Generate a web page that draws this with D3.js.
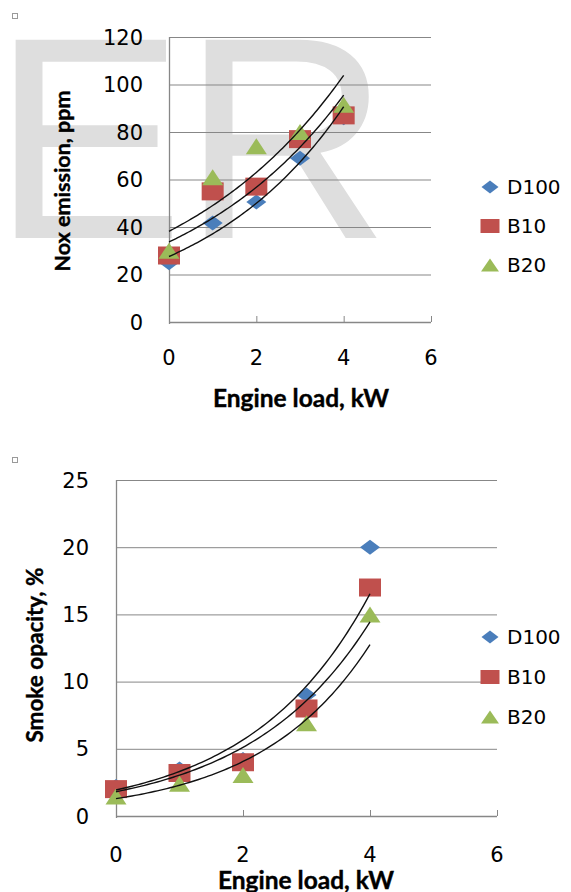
<!DOCTYPE html>
<html>
<head>
<meta charset="utf-8">
<script src="https://cdn.jsdelivr.net/npm/d3@7"></script>
<style>
  body { margin: 0; background: #fff; }
  svg { display: block; }
</style>
</head>
<body>
<svg id="graph-svg" width="571" height="892"></svg>
<script>
// values
const loads = [0, 1, 2, 3, 4]
const seriesNames = ['D100', 'B10', 'B20']
const seriesColours = ['#4a7ebb', '#c0504d', '#9bbb59']
const seriesShapes = ['diamond', 'square', 'triangle']

const noxD100 = [25, 41.7, 50.5, 69, 86]
const noxB10 = [28, 55, 57, 77, 87]
const noxB20 = [30, 61, 74, 80, 91.5]

const smokeD100 = [2.2, 3.5, 4.2, 9, 20]
const smokeB10 = [2, 3.2, 4, 8, 17]
const smokeB20 = [1.45, 2.4, 3.05, 6.9, 15]

const xTicks = [0, 2, 4, 6]
const noxTicks = [0, 20, 40, 60, 80, 100, 120]
const smokeTicks = [0, 5, 10, 15, 20, 25]

const svg = d3.select('#graph-svg')
const gridColour = '#878787'

// watermark behind the top chart
const wm = svg.append('g')
    .attr('font-family', 'Liberation Sans, Arial, sans-serif')
    .attr('font-size', 288)
    .attr('fill', '#dedede')
wm.append('text').attr('x', -8).attr('y', 238).text('E')
wm.append('text').attr('x', 182).attr('y', 238).text('R')

// excel style exponential trendline: least squares on ln(y)
function expFit(xs, ys) {
    const ly = ys.map(Math.log)
    const mx = d3.mean(xs), my = d3.mean(ly)
    const b = d3.sum(xs, (x, i) => (x - mx) * (ly[i] - my)) / d3.sum(xs, x => (x - mx) ** 2)
    const a = Math.exp(my - b * mx)
    return x => a * Math.exp(b * x)
}

function marker(g, shape, colour, w, h) {
    if (shape == 'diamond') {
        g.append('path')
            .attr('d', `M0,${-h / 2}L${w / 2},0L0,${h / 2}L${-w / 2},0Z`)
            .attr('fill', colour)
    } else if (shape == 'square') {
        g.append('rect')
            .attr('x', -w / 2).attr('y', -h / 2)
            .attr('width', w).attr('height', h)
            .attr('fill', colour)
    } else {
        g.append('path')
            .attr('d', `M0,${-h / 2}L${w / 2},${h / 2}L${-w / 2},${h / 2}Z`)
            .attr('fill', colour)
    }
}

function drawChart(opts) {
    const xScale = d3.scaleLinear().domain([0, 6]).range([opts.left, opts.right])
    const yScale = d3.scaleLinear().domain([0, d3.max(opts.yTicks)]).range([opts.bottom, opts.top])

    const g = svg.append('g')

    // gridlines
    g.selectAll('line.grid')
        .data(opts.yTicks.filter(d => d > 0))
        .join('line')
        .attr('class', 'grid')
        .attr('x1', opts.left).attr('x2', opts.right)
        .attr('y1', d => yScale(d) + 0.5).attr('y2', d => yScale(d) + 0.5)
        .attr('stroke', gridColour)

    // axes
    g.append('line')
        .attr('x1', opts.left + 0.5).attr('x2', opts.left + 0.5)
        .attr('y1', opts.top).attr('y2', opts.bottom + 2)
        .attr('stroke', gridColour).attr('stroke-width', 1.3)
    g.append('line')
        .attr('x1', opts.left).attr('x2', opts.right)
        .attr('y1', opts.bottom + 0.5).attr('y2', opts.bottom + 0.5)
        .attr('stroke', gridColour).attr('stroke-width', 1.3)
    g.selectAll('line.xtick')
        .data(xTicks.filter(d => d > 0))
        .join('line')
        .attr('class', 'xtick')
        .attr('x1', d => xScale(d) + 0.5).attr('x2', d => xScale(d) + 0.5)
        .attr('y1', opts.bottom - 6).attr('y2', opts.bottom)
        .attr('stroke', gridColour)

    // tick labels
    g.selectAll('text.ylab')
        .data(opts.yTicks)
        .join('text')
        .attr('class', 'ylab')
        .attr('x', opts.yLabelX)
        .attr('y', d => yScale(d))
        .attr('dy', '0.36em')
        .attr('text-anchor', 'end')
        .attr('font-family', 'DejaVu Sans, Verdana, sans-serif')
        .attr('font-size', 21)
        .text(d => d)
    g.selectAll('text.xlab')
        .data(xTicks)
        .join('text')
        .attr('class', 'xlab')
        .attr('x', d => xScale(d))
        .attr('y', opts.xLabelY)
        .attr('dy', '0.36em')
        .attr('text-anchor', 'middle')
        .attr('font-family', 'DejaVu Sans, Verdana, sans-serif')
        .attr('font-size', 21)
        .text(d => d)

    // axis titles
    g.append('text')
        .attr('x', opts.xTitle[0]).attr('y', opts.xTitle[1])
        .attr('dy', '0.36em')
        .attr('text-anchor', 'middle')
        .attr('font-family', 'Lato, sans-serif')
        .attr('font-weight', 'bold')
        .attr('font-size', 24.5)
        .attr('stroke', '#000').attr('stroke-width', 0.4)
        .text('Engine load, kW')
    g.append('text')
        .attr('transform', `translate(${opts.yTitle[0]},${opts.yTitle[1]}) rotate(-90)`)
        .attr('dy', '0.36em')
        .attr('text-anchor', 'middle')
        .attr('font-family', 'Lato, sans-serif')
        .attr('font-weight', 'bold')
        .attr('font-size', opts.yTitleSize)
        .attr('stroke', '#000').attr('stroke-width', 0.4)
        .text(opts.yTitleText)

    // markers
    opts.series.forEach((vals, si) => {
        vals.forEach((v, i) => {
            const m = g.append('g')
                .attr('transform', `translate(${xScale(loads[i])},${yScale(v)})`)
            const size = seriesShapes[si] == 'diamond' ? [20, 15] :
                seriesShapes[si] == 'square' ? [22, 18] : [21, 16]
            marker(m, seriesShapes[si], seriesColours[si], size[0], size[1])
        })
    })

    // trendlines over the markers
    const line = d3.line()
        .x(d => xScale(d[0]))
        .y(d => yScale(d[1]))
    const xs = d3.range(0, 4.0001, 0.05)
    opts.series.forEach(vals => {
        const f = expFit(loads, vals)
        g.append('path')
            .attr('d', line(xs.map(x => [x, f(x)])))
            .attr('fill', 'none')
            .attr('stroke', '#111')
            .attr('stroke-width', 1.4)
    })

    // legend
    seriesNames.forEach((name, si) => {
        const ly = opts.legendY[si]
        const m = g.append('g').attr('transform', `translate(490,${ly})`)
        const size = seriesShapes[si] == 'diamond' ? [17, 13] :
            seriesShapes[si] == 'square' ? [19, 14] : [18, 13]
        marker(m, seriesShapes[si], seriesColours[si], size[0], size[1])
        g.append('text')
            .attr('x', 507).attr('y', ly)
            .attr('dy', '0.36em')
            .attr('font-family', 'DejaVu Sans, Verdana, sans-serif')
            .attr('font-size', 20)
            .text(name)
    })

    // the tiny placeholder square in the corner
    g.append('rect')
        .attr('x', opts.box[0] + 0.5).attr('y', opts.box[1] + 0.5)
        .attr('width', 5).attr('height', 5)
        .attr('fill', '#fff')
        .attr('stroke', '#9a9a9a')
}

drawChart({
    left: 169, right: 431, top: 37, bottom: 322,
    yTicks: noxTicks,
    series: [noxD100, noxB10, noxB20],
    yLabelX: 143, xLabelY: 357,
    xTitle: [301, 398], yTitle: [62, 181],
    yTitleText: 'Nox emission, ppm', yTitleSize: 21.5,
    legendY: [187, 226, 265],
    box: [12, 13]
})

drawChart({
    left: 116, right: 497, top: 480, bottom: 816,
    yTicks: smokeTicks,
    series: [smokeD100, smokeB10, smokeB20],
    yLabelX: 89, xLabelY: 854,
    xTitle: [306, 880], yTitle: [35, 655],
    yTitleText: 'Smoke opacity, %', yTitleSize: 22.5,
    legendY: [637, 677, 717],
    box: [12, 457]
})
</script>
</body>
</html>
